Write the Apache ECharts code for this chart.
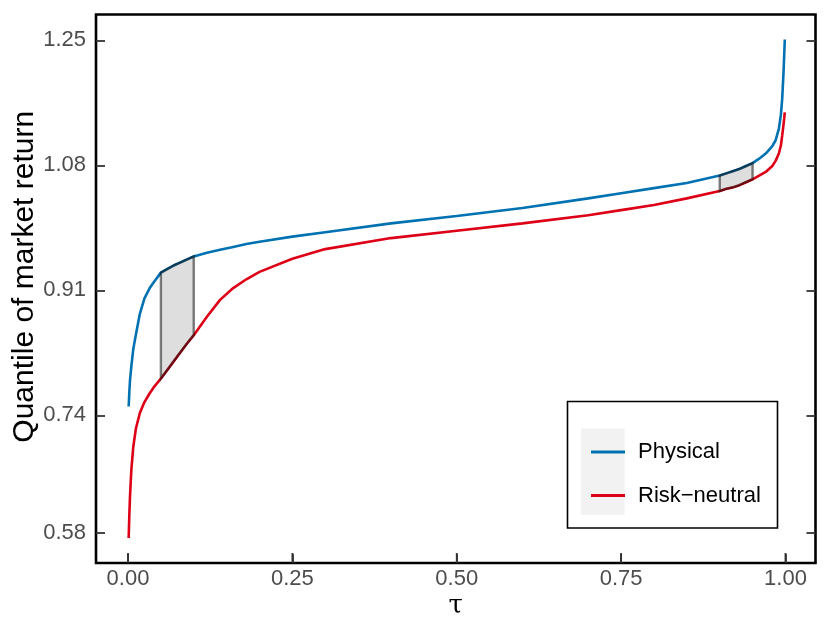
<!DOCTYPE html>
<html>
<head>
<meta charset="utf-8">
<script src="https://cdn.jsdelivr.net/npm/echarts@6/dist/echarts.min.js"></script>
<style>html,body{margin:0;padding:0;background:#fff}#c{width:830px;height:632px}</style>
</head>
<body>
<div id="c"></div>
<script>
const tau = [0.001,0.002,0.003,0.005,0.008,0.012,0.018,0.025,0.033,0.04,0.05,0.06,0.07,0.08,0.09,0.1,0.12,0.14,0.16,0.18,0.2,0.25,0.3,0.4,0.5,0.6,0.7,0.75,0.8,0.85,0.9,0.91,0.92,0.93,0.94,0.95,0.96,0.97,0.98,0.985,0.99,0.993,0.995,0.997,0.998,0.999];
const physical = [0.752,0.772,0.787,0.806,0.830,0.850,0.878,0.899,0.913,0.922,0.934,0.939,0.944,0.948,0.952,0.956,0.961,0.965,0.969,0.973,0.976,0.983,0.989,1.001,1.011,1.022,1.035,1.042,1.049,1.056,1.066,1.069,1.072,1.075,1.079,1.083,1.089,1.096,1.106,1.114,1.130,1.148,1.170,1.205,1.228,1.251];
const riskNeutral = [0.573,0.605,0.629,0.665,0.697,0.722,0.743,0.758,0.770,0.779,0.790,0.802,0.814,0.826,0.838,0.849,0.874,0.897,0.913,0.925,0.935,0.953,0.966,0.981,0.991,1.001,1.012,1.019,1.026,1.035,1.045,1.048,1.050,1.053,1.057,1.061,1.066,1.071,1.079,1.086,1.096,1.107,1.120,1.135,1.143,1.152];
const shadeRanges = [[0.05,0.1],[0.9,0.95]];
const xTicks = [0,0.25,0.5,0.75,1];
const yTicks = [0.58,0.74,0.91,1.08,1.25];
const seriesNames = ['Physical','Risk\u2212neutral'];

const Y_MIN = 0.5391, Y_MAX = 1.2851;
const chart = echarts.init(document.getElementById('c'), null, {renderer:'canvas'});
const FONT = 'Liberation Sans';
const tickStyle = {show:true, inside:true, length:9, lineStyle:{color:'#333', width:1.8}};

function renderShade(params, api){
  const a = api.value(0), b = api.value(1);
  const top = [], bot = [];
  for (let i=0;i<tau.length;i++){
    if (tau[i] >= a-1e-9 && tau[i] <= b+1e-9){
      top.push(api.coord([tau[i], physical[i]]));
      bot.push(api.coord([tau[i], riskNeutral[i]]));
    }
  }
  const pts = top.concat(bot.reverse());
  return {type:'polygon', shape:{points:pts},
    style:{fill:'rgba(153,153,153,0.32)', stroke:'rgba(0,0,0,0.5)', lineWidth:2.4}};
}

chart.setOption({
  animation:false,
  backgroundColor:'#fff',
  grid:{left:96, top:14.5, right:14.5, bottom:69, show:true, borderColor:'#000', borderWidth:2.6,
        backgroundColor:'transparent', outerBoundsMode:'none', containLabel:false},
  legend:{
    orient:'vertical', left:586, top:436, itemWidth:34, itemHeight:3, itemGap:21.5,
    icon:'rect', textStyle:{fontFamily:FONT, fontSize:22, color:'#000', lineHeight:22, padding:[0,0,0,8]},
    data:seriesNames
  },
  xAxis:{
    type:'value', min:-0.0487, max:1.0457,
    name:'\u03c4', nameLocation:'middle', nameGap:30, nameMoveOverlap:false,
    nameTextStyle:{fontFamily:'DejaVu Serif', fontSize:26, color:'#000'},
    axisLine:{show:false, onZero:false}, splitLine:{show:false},
    axisTick:Object.assign({customValues:xTicks}, tickStyle),
    axisLabel:{customValues:xTicks, formatter:v=>v.toFixed(2), fontFamily:FONT, fontSize:22, color:'#4D4D4D', margin:5}
  },
  yAxis:[{
    type:'value', min:Y_MIN, max:Y_MAX,
    name:'Quantile of market return', nameLocation:'middle', nameGap:56, nameMoveOverlap:false,
    nameTextStyle:{fontFamily:FONT, fontSize:30, color:'#000', padding:[0,0,0,24]},
    axisLine:{show:false, onZero:false}, splitLine:{show:false},
    axisTick:Object.assign({customValues:yTicks}, tickStyle),
    axisLabel:{customValues:yTicks, formatter:v=>v.toFixed(2), fontFamily:FONT, fontSize:22, color:'#4D4D4D', margin:10}
  },{
    type:'value', min:Y_MIN, max:Y_MAX, position:'right',
    axisLine:{show:false, onZero:false}, splitLine:{show:false},
    axisTick:Object.assign({customValues:yTicks}, tickStyle),
    axisLabel:{show:false}
  }],
  series:[
    {name:seriesNames[0], type:'line', data:tau.map((t,i)=>[t,physical[i]]), showSymbol:false, smooth:false,
     lineStyle:{color:'#0072B2', width:2.6}, itemStyle:{color:'#0072B2'}, z:2},
    {name:seriesNames[1], type:'line', data:tau.map((t,i)=>[t,riskNeutral[i]]), showSymbol:false, smooth:false,
     lineStyle:{color:'#DD0016', width:2.6}, itemStyle:{color:'#DD0016'}, z:2},
    {name:'shade', type:'custom', renderItem:renderShade, data:shadeRanges, encode:{x:[0,1]}, z:3, clip:false, silent:true}
  ],
  graphic:[
    {type:'rect', shape:{x:567.5, y:401.5, width:210, height:126.5}, style:{fill:'#fff', stroke:'#000', lineWidth:1.6}, z:-1},
    {type:'rect', shape:{x:581, y:428.5, width:43.5, height:86.5}, style:{fill:'#F2F2F2'}, z:0}
  ]
});

// x-axis tick marks placed through the chart's own x scale
const tickEls = xTicks.map(function(v, i){
  const p = chart.convertToPixel({xAxisIndex:0, yAxisIndex:0}, [v, Y_MIN]);
  return {type:'line', id:'xt'+i, z:100, silent:true,
    shape:{x1:p[0], y1:p[1]-1.3, x2:p[0], y2:p[1]-10},
    style:{stroke:'#333', lineWidth:1.8}};
});
chart.setOption({graphic:tickEls});
</script>
</body>
</html>
